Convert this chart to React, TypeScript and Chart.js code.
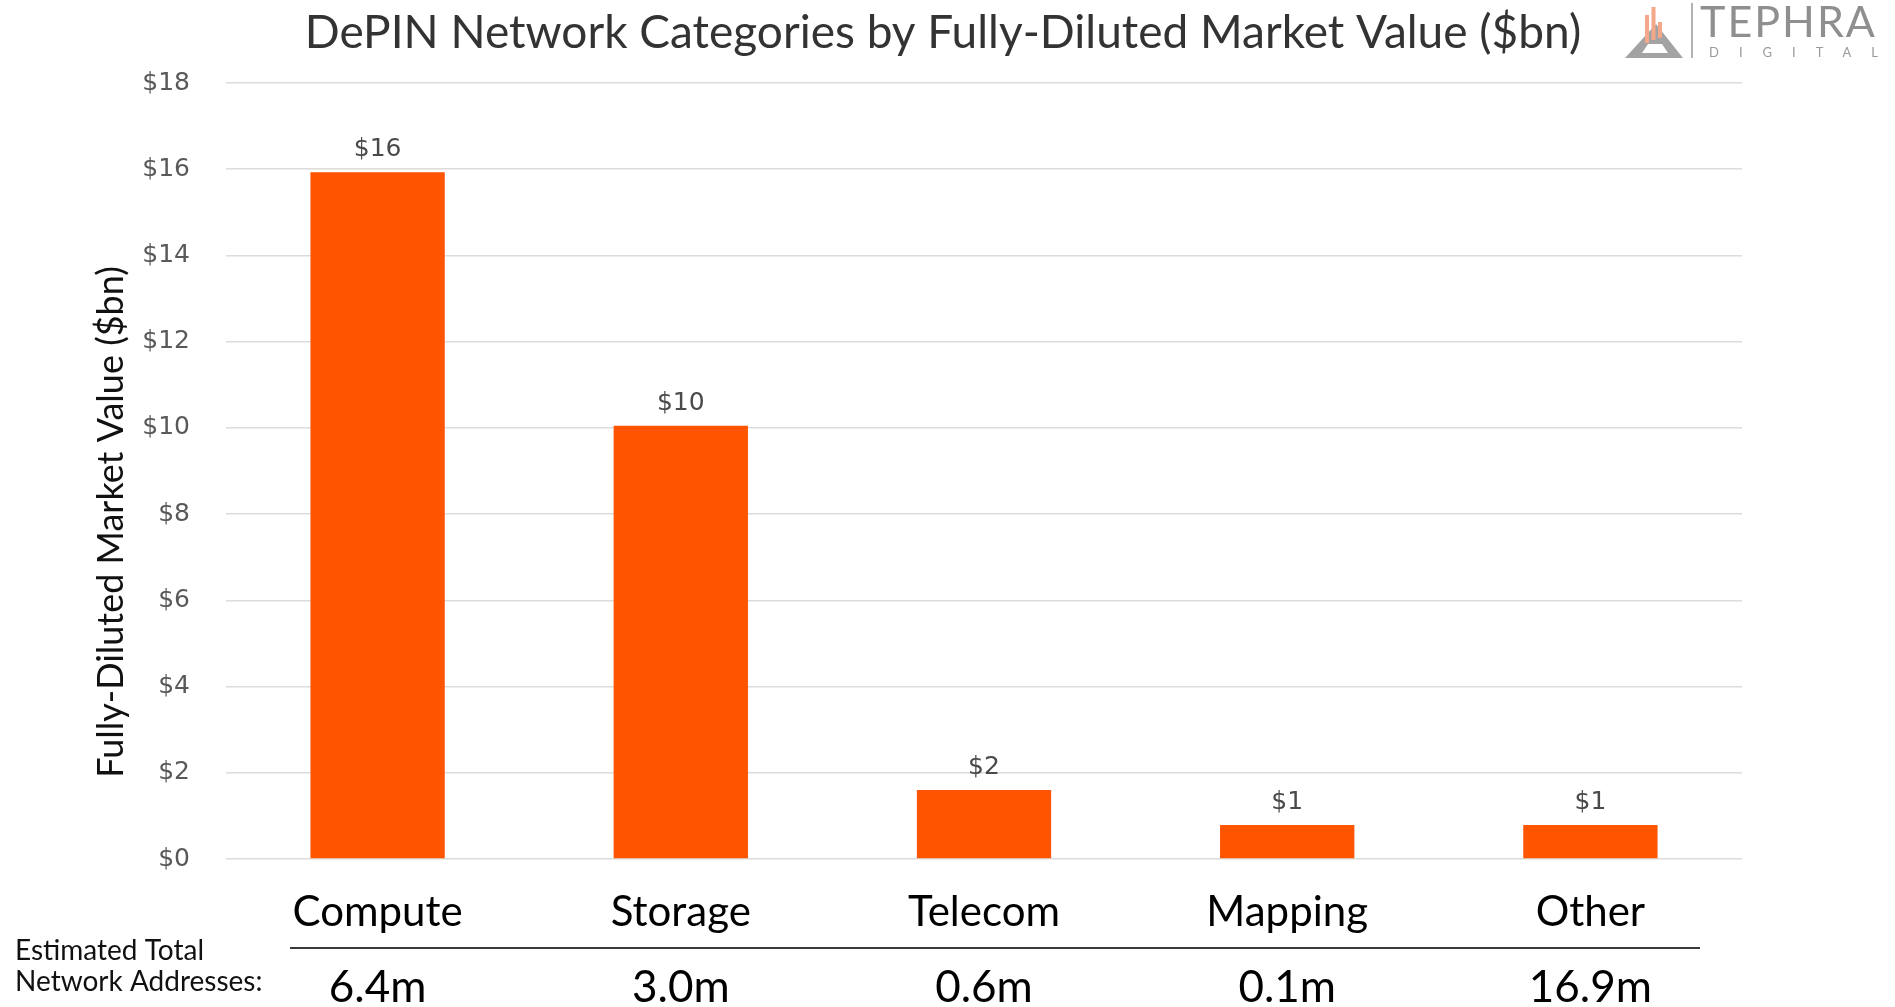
import React, { useEffect, useRef } from "react";
import { Chart, registerables } from "chart.js";

Chart.register(...registerables);

const TITLE = "DePIN Network Categories by Fully-Diluted Market Value ($bn)";
const Y_TITLE = "Fully-Diluted Market Value ($bn)";
const categories = ["Compute", "Storage", "Telecom", "Mapping", "Other"];
const marketValues = [15.93, 10.05, 1.6, 0.79, 0.79];
const addresses = ["6.4m", "3.0m", "0.6m", "0.1m", "16.9m"];
const addressCaption = ["Estimated Total", "Network Addresses:"];
const yMin = 0;
const yMax = 18;
const yStep = 2;

const W = 1895;
const H = 1007;

const overlayPlugin = {
  id: "overlay",
  afterDatasetsDraw(chart: any) {
    const { ctx } = chart;
    const meta = chart.getDatasetMeta(0);
    ctx.save();
    ctx.font = "25px 'DejaVu Sans'";
    ctx.fillStyle = "#4a4a4a";
    ctx.textAlign = "center";
    ctx.textBaseline = "alphabetic";
    meta.data.forEach((bar: any, i: number) => {
      ctx.fillText("$" + Math.round(marketValues[i]), bar.x, bar.y - 16);
    });
    ctx.restore();
  },
  afterDraw(chart: any) {
    const { ctx } = chart;
    const xs = chart.scales.x;
    ctx.save();

    // Title
    ctx.font = "46px Lato";
    ctx.fillStyle = "#333333";
    ctx.textAlign = "center";
    ctx.textBaseline = "alphabetic";
    ctx.fillText(TITLE, 943, 48);

    // Y axis title
    ctx.save();
    ctx.translate(123, 522);
    ctx.rotate(-Math.PI / 2);
    ctx.font = "36px Lato";
    ctx.fillStyle = "#111111";
    ctx.textAlign = "center";
    ctx.textBaseline = "alphabetic";
    ctx.fillText(Y_TITLE, 0, 0);
    ctx.restore();

    // separator line
    ctx.strokeStyle = "#3a3a3a";
    ctx.lineWidth = 2;
    ctx.beginPath();
    ctx.moveTo(290, 948);
    ctx.lineTo(1700, 948);
    ctx.stroke();

    // address values
    ctx.font = "44px Lato";
    ctx.fillStyle = "#000000";
    ctx.textAlign = "center";
    addresses.forEach((a, i) => {
      ctx.fillText(a, xs.getPixelForValue(i), 1002);
    });

    // caption
    ctx.font = "28px Lato";
    ctx.fillStyle = "#111111";
    ctx.textAlign = "left";
    ctx.fillText(addressCaption[0], 15, 960);
    ctx.fillText(addressCaption[1], 15, 991);

    // Logo
    ctx.fillStyle = "#a3a3a3";
    ctx.beginPath();
    ctx.moveTo(1625, 58);
    ctx.lineTo(1683, 58);
    ctx.lineTo(1656, 24);
    ctx.closePath();
    ctx.fill();
    ctx.fillStyle = "#ffffff";
    ctx.beginPath();
    ctx.moveTo(1642, 53);
    ctx.lineTo(1668, 53);
    ctx.lineTo(1662, 44);
    ctx.lineTo(1648, 44);
    ctx.closePath();
    ctx.fill();
    ctx.fillStyle = "#f4a889";
    ctx.fillRect(1645, 15, 4, 28);
    ctx.fillRect(1651.5, 7, 4, 33);
    ctx.fillRect(1658, 22, 4, 16);
    ctx.strokeStyle = "#9a9a9a";
    ctx.lineWidth = 1.5;
    ctx.beginPath();
    ctx.moveTo(1692, 3);
    ctx.lineTo(1692, 58);
    ctx.stroke();
    ctx.fillStyle = "#8f8f8f";
    ctx.textAlign = "left";
    ctx.font = "43px Lato";
    (ctx as any).letterSpacing = "2px";
    ctx.fillText("TEPHRA", 1700, 37);
    ctx.font = "13px Lato";
    (ctx as any).letterSpacing = "20px";
    ctx.fillStyle = "#9a9a9a";
    ctx.fillText("DIGITAL", 1709, 57);
    (ctx as any).letterSpacing = "0px";

    ctx.restore();
  },
};

export default function App() {
  const ref = useRef<HTMLCanvasElement>(null);
  useEffect(() => {
    document.body.style.margin = "0";
    const chart = new Chart(ref.current!, {
      type: "bar",
      data: {
        labels: categories,
        datasets: [
          {
            data: marketValues,
            backgroundColor: "#ff5500",
            borderWidth: 0,
            barPercentage: 0.443,
            categoryPercentage: 1,
          },
        ],
      },
      options: {
        responsive: false,
        animation: false,
        layout: { padding: { top: 83, right: 153, left: 0, bottom: 0 } },
        plugins: {
          legend: { display: false },
          tooltip: { enabled: false },
          title: { display: false },
        },
        scales: {
          x: {
            grid: { display: false, drawTicks: false },
            border: { display: false },
            ticks: {
              color: "#000000",
              font: { family: "Lato", size: 42 },
              padding: 28,
              maxRotation: 0,
            },
            afterFit: (s: any) => {
              s.height = 148;
            },
          },
          y: {
            min: yMin,
            max: yMax,
            grid: { color: "#dcdcdc", lineWidth: 1.5, drawTicks: false },
            border: { display: false },
            ticks: {
              stepSize: yStep,
              color: "#595959",
              font: { family: "'DejaVu Sans'", size: 25 },
              padding: 36,
              callback: (v: any) => "$" + v,
            },
            afterFit: (s: any) => {
              s.width = 226;
            },
          },
        },
      },
      plugins: [overlayPlugin],
    });
    return () => chart.destroy();
  }, []);
  return (
    <div style={{ position: "fixed", left: 0, top: 0, width: W, height: H, background: "#ffffff" }}>
      <canvas ref={ref} width={W} height={H} style={{ width: W, height: H, display: "block" }} />
    </div>
  );
}
